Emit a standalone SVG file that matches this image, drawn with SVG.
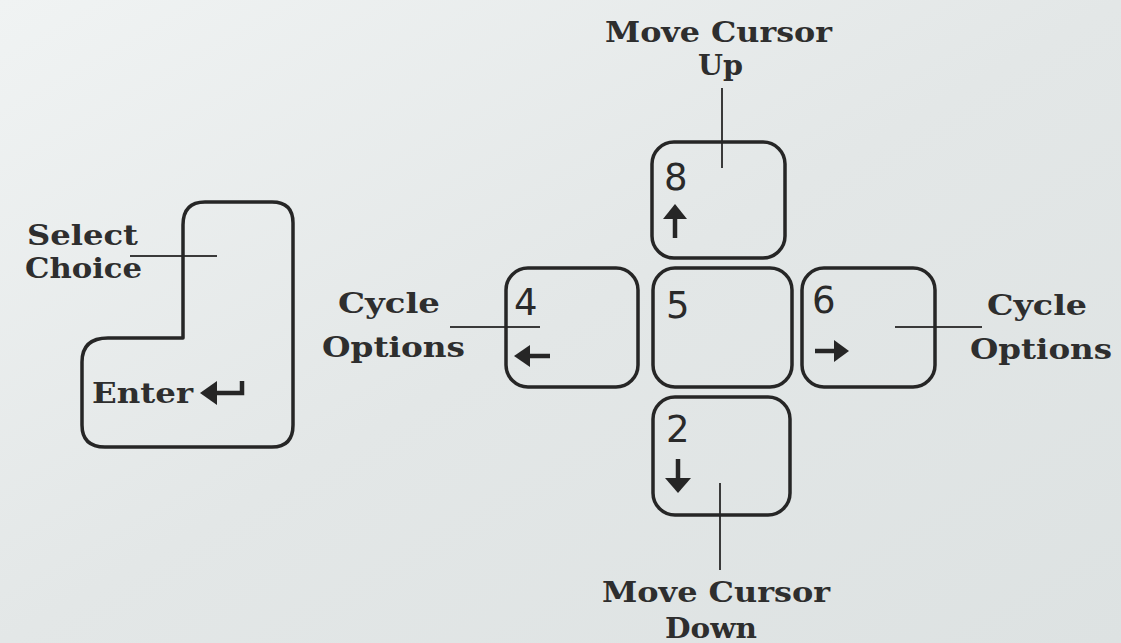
<svg xmlns="http://www.w3.org/2000/svg" width="1121" height="643" viewBox="0 0 1121 643">
  <defs>
    <linearGradient id="paper" x1="0" y1="0" x2="1" y2="1">
      <stop offset="0" stop-color="#f0f3f3"/>
      <stop offset="0.5" stop-color="#e3e7e7"/>
      <stop offset="1" stop-color="#dde2e2"/>
    </linearGradient>
    <style>
      .key { fill: none; stroke: #262626; stroke-width: 3.5; stroke-linejoin: round; }
      .lead { stroke: #3a3a3a; stroke-width: 2; fill: none; }
      .label { font-family: "DejaVu Serif", "Liberation Serif", serif; font-weight: bold; font-size: 28px; fill: #2e2e2e; }
      .digit { font-family: "DejaVu Sans", "Liberation Sans", sans-serif; font-size: 37px; fill: #2a2a2a; }
      .glyph { fill: #262626; }
      .shaft { stroke: #262626; stroke-width: 4.5; fill: none; }
    </style>
  </defs>

  <!-- paper background -->
  <rect x="0" y="0" width="1121" height="643" fill="url(#paper)"/>

  <!-- leader lines from labels to keys -->
  <g id="connectors">
    <line class="lead" x1="130" y1="256" x2="217" y2="256"/>
    <line class="lead" x1="450" y1="327" x2="540" y2="327"/>
    <line class="lead" x1="895" y1="327" x2="982" y2="327"/>
    <line class="lead" x1="722" y1="88" x2="722" y2="168"/>
    <line class="lead" x1="720" y1="483" x2="720" y2="570"/>
  </g>

  <!-- Enter key -->
  <g id="key-enter">
    <path class="key" d="M 205 202 H 272 Q 293 202 293 223 V 425 Q 293 447 272 447 H 105 Q 82 447 82 425 V 362 Q 82 338 108 338 H 183 V 225 Q 183 202 205 202 Z"/>
    <text class="label" x="92" y="403" textLength="101" lengthAdjust="spacingAndGlyphs">Enter</text>
    <path class="shaft" d="M 242 381 V 393 H 214"/>
    <polygon class="glyph" points="200,393 217,381 217,405"/>
  </g>

  <!-- numeric keypad keys -->
  <g id="key-8">
    <rect class="key" x="652" y="142" width="133" height="116" rx="22"/>
    <text class="digit" x="664" y="190">8</text>
    <line class="shaft" x1="675" y1="216" x2="675" y2="238"/>
    <polygon class="glyph" points="675,204 663,219 687,219"/>
  </g>

  <g id="key-4">
    <rect class="key" x="506" y="268" width="132" height="119" rx="22"/>
    <text class="digit" x="514" y="315">4</text>
    <line class="shaft" x1="526" y1="356" x2="550" y2="356"/>
    <polygon class="glyph" points="514,356 530,345 530,367"/>
  </g>

  <g id="key-5">
    <rect class="key" x="653" y="268" width="139" height="119" rx="22"/>
    <text class="digit" x="666" y="318">5</text>
  </g>

  <g id="key-6">
    <rect class="key" x="802" y="268" width="133" height="119" rx="22"/>
    <text class="digit" x="812" y="313">6</text>
    <line class="shaft" x1="815" y1="351" x2="838" y2="351"/>
    <polygon class="glyph" points="849,351 834,340 834,362"/>
  </g>

  <g id="key-2">
    <rect class="key" x="653" y="397" width="137" height="118" rx="22"/>
    <text class="digit" x="666" y="442">2</text>
    <line class="shaft" x1="678" y1="459" x2="678" y2="482"/>
    <polygon class="glyph" points="678,493 665,478 691,478"/>
  </g>

  <!-- function labels -->
  <g id="label-select">
    <text class="label" x="27" y="245" textLength="111" lengthAdjust="spacingAndGlyphs">Select</text>
    <text class="label" x="25" y="278" textLength="117" lengthAdjust="spacingAndGlyphs">Choice</text>
  </g>

  <g id="label-cycle-left">
    <text class="label" x="338" y="313" textLength="102" lengthAdjust="spacingAndGlyphs">Cycle</text>
    <text class="label" x="322" y="357" textLength="143" lengthAdjust="spacingAndGlyphs">Options</text>
  </g>

  <g id="label-cycle-right">
    <text class="label" x="987" y="315" textLength="100" lengthAdjust="spacingAndGlyphs">Cycle</text>
    <text class="label" x="970" y="359" textLength="142" lengthAdjust="spacingAndGlyphs">Options</text>
  </g>

  <g id="label-up">
    <text class="label" x="605" y="42" textLength="227" lengthAdjust="spacingAndGlyphs">Move Cursor</text>
    <text class="label" x="698" y="75" textLength="45" lengthAdjust="spacingAndGlyphs">Up</text>
  </g>

  <g id="label-down">
    <text class="label" x="602" y="602" textLength="228" lengthAdjust="spacingAndGlyphs">Move Cursor</text>
    <text class="label" x="665" y="638" textLength="92" lengthAdjust="spacingAndGlyphs">Down</text>
  </g>
</svg>
